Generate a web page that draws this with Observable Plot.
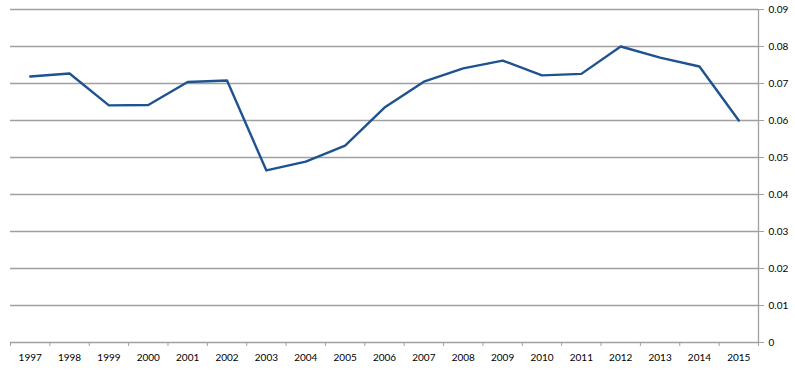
<!DOCTYPE html>
<html>
<head>
<meta charset="utf-8">
<script src="https://cdn.jsdelivr.net/npm/d3@7"></script>
<script src="https://cdn.jsdelivr.net/npm/@observablehq/plot@0.6"></script>
<style>
  html, body { margin: 0; padding: 0; background: #fff; }
  #chart svg { display: block; }
</style>
</head>
<body>
<div id="chart"></div>
<script>
const years = [1997, 1998, 1999, 2000, 2001, 2002, 2003, 2004, 2005, 2006, 2007, 2008, 2009, 2010, 2011, 2012, 2013, 2014, 2015];
const values = [0.0719, 0.0727, 0.0641, 0.0642, 0.0704, 0.0708, 0.0465, 0.0489, 0.0532, 0.0635, 0.0705, 0.0741, 0.0762, 0.0722, 0.0726, 0.0800, 0.0770, 0.0746, 0.0600];
const yTicks = [0, 0.01, 0.02, 0.03, 0.04, 0.05, 0.06, 0.07, 0.08, 0.09];
const yTickLabels = ["0", "0.01", "0.02", "0.03", "0.04", "0.05", "0.06", "0.07", "0.08", "0.09"];

const data = years.map((y, i) => ({year: y, value: values[i]}));
const bounds = years.map(y => y - 0.5).concat([years[years.length - 1] + 0.5]);
const gridTicks = yTicks.filter(v => v > 0);

const chart = Plot.plot({
  width: 795,
  height: 370,
  marginLeft: 10,
  marginRight: 37,
  marginTop: 9,
  marginBottom: 28,
  style: {fontFamily: "Lato, 'DejaVu Sans', sans-serif", fontSize: "10px", color: "#000"},
  x: {domain: [bounds[0], bounds[bounds.length - 1]]},
  y: {domain: [0, 0.09]},
  marks: [
    Plot.ruleY(gridTicks, {stroke: "#a0a0a0", strokeWidth: 1.3}),
    Plot.ruleY([0], {stroke: "#a0a0a0", strokeWidth: 1.3}),
    Plot.ruleX([bounds[bounds.length - 1]], {stroke: "#a0a0a0", strokeWidth: 1.3}),
    Plot.axisY({
      anchor: "right",
      ticks: yTicks,
      tickSize: 5,
      tickPadding: 5,
      stroke: "#a0a0a0",
      tickFormat: (d) => yTickLabels[yTicks.indexOf(d)],
      textAnchor: "start",
      label: null
    }),
    Plot.axisX({
      ticks: bounds,
      tickSize: 4,
      stroke: "#a0a0a0",
      tickFormat: () => "",
      label: null
    }),
    Plot.axisX({
      ticks: years,
      tickSize: 0,
      tickPadding: 11,
      tickFormat: (d) => String(d),
      label: null
    }),
    Plot.line(data, {x: "year", y: "value", stroke: "#1f5290", strokeWidth: 2.4, strokeLinejoin: "round"})
  ]
});
document.getElementById("chart").appendChild(chart);
</script>
</body>
</html>
